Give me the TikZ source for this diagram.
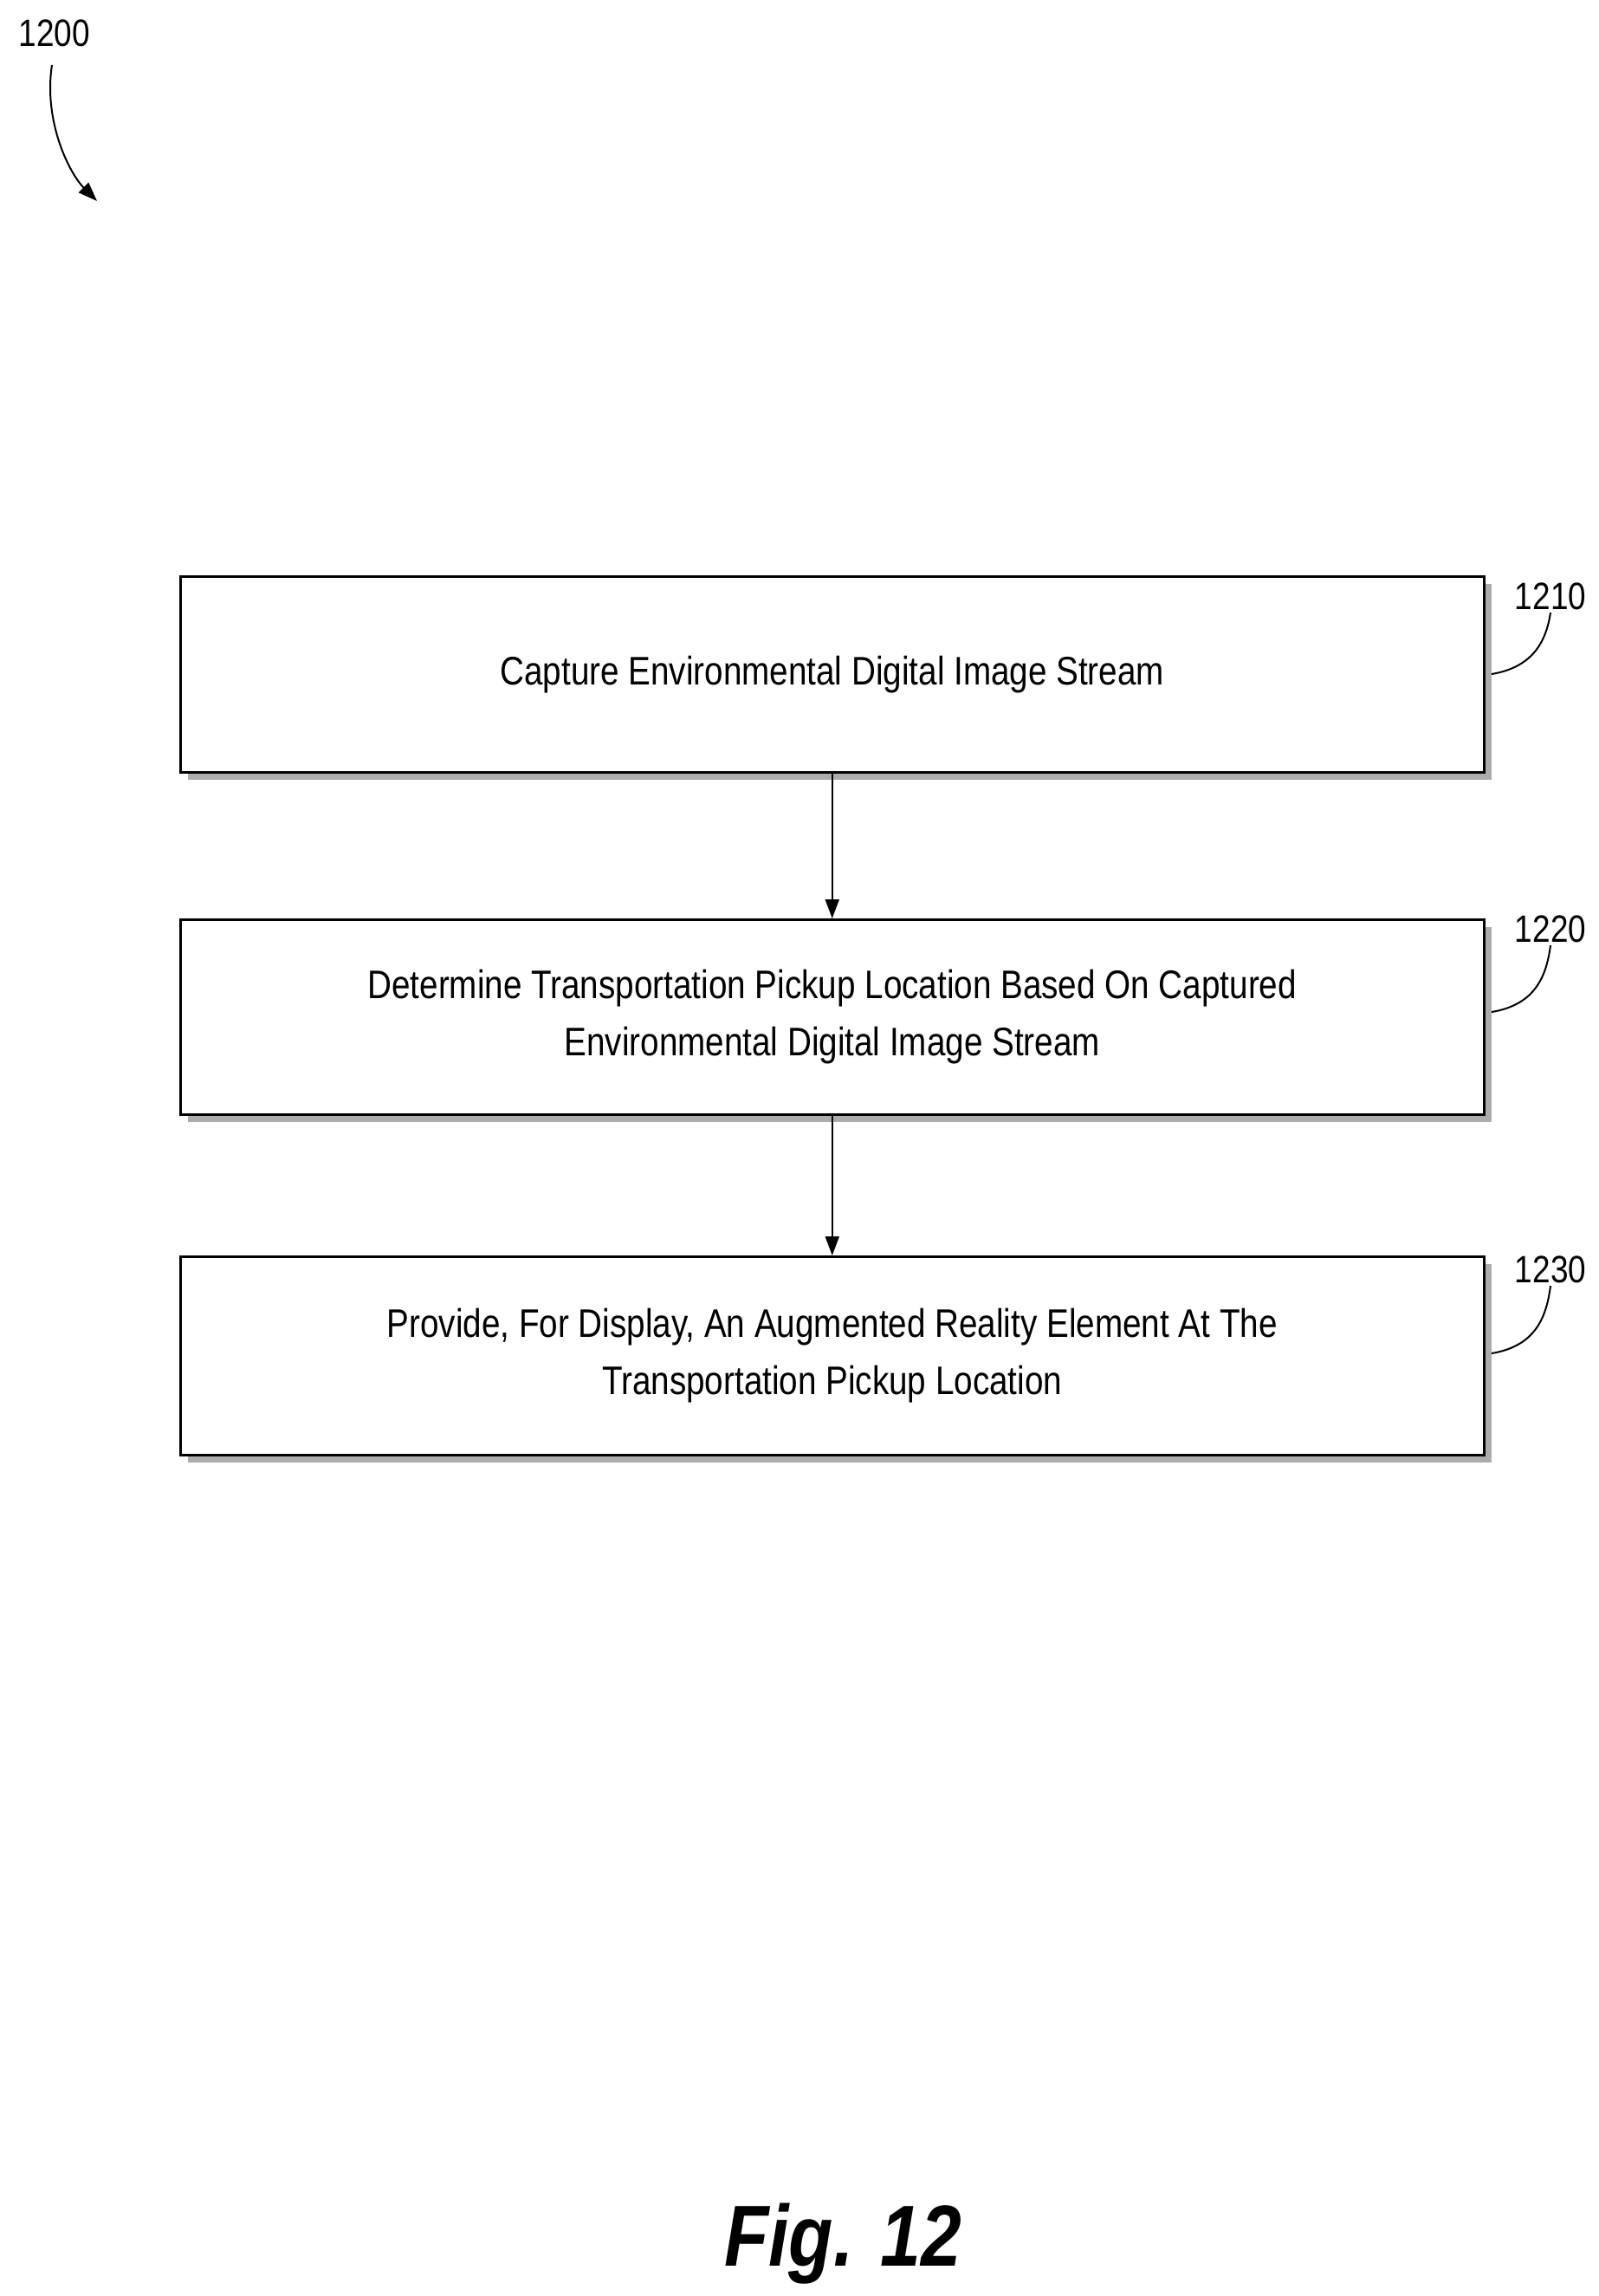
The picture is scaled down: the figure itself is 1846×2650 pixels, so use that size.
\documentclass[tikz,border=0pt]{standalone}
\usepackage{fontspec}
\setmainfont{Liberation Sans}[FakeStretch=0.84]
\usetikzlibrary{arrows.meta}
\begin{document}
\begin{tikzpicture}[x=1pt,y=-1pt,
  stepbox/.style={draw,line width=2.5pt,fill=white,minimum width=1505pt,anchor=north west,inner sep=0pt,align=center,font=\fontsize{46}{66}\selectfont},
  shadowbox/.style={fill=gray!70},
  lead/.style={line width=2pt},
  arr/.style={line width=2pt,-{Triangle[length=22pt,width=16pt]}},
  lbl/.style={font=\fontsize{44}{50}\selectfont}]
\useasboundingbox (0,0) rectangle (1846,2650);
% shadows
\fill[gray!65] (217,674) rectangle (1722,900);
\fill[gray!65] (217,1070) rectangle (1722,1295);
\fill[gray!65] (217,1459) rectangle (1722,1688);
\node[stepbox,minimum height=226pt] (b1) at (207,664) {Capture Environmental Digital Image Stream};
\node[stepbox,minimum height=225pt] (b2) at (207,1060) {Determine Transportation Pickup Location Based On Captured\\Environmental Digital Image Stream};
\node[stepbox,minimum height=229pt] (b3) at (207,1449) {Provide, For Display, An Augmented Reality Element At The\\Transportation Pickup Location};
\draw[arr] (b1.south) -- (b2.north);
\draw[arr] (b2.south) -- (b3.north);
\node[lbl] (l1) at (1790,688) {1210};
\node[lbl] (l2) at (1790,1072) {1220};
\node[lbl] (l3) at (1790,1465) {1230};
\draw[lead] (1722,778) .. controls (1770,770) and (1785,740) .. (l1.south);
\draw[lead] (1722,1168) .. controls (1770,1160) and (1785,1130) .. (l2.south);
\draw[lead] (1722,1562) .. controls (1770,1554) and (1785,1524) .. (l3.south);
\node[lbl] (top) at (63,38) {1200};
\coordinate (tip) at (112,232);
\draw[arr] (60,75) .. controls (50,140) and (80,200) .. (tip);
\node[font=\fontsize{100}{110}\selectfont\bfseries\itshape] (fig) at (973,2590) {Fig. 12};
\end{tikzpicture}
\end{document}
